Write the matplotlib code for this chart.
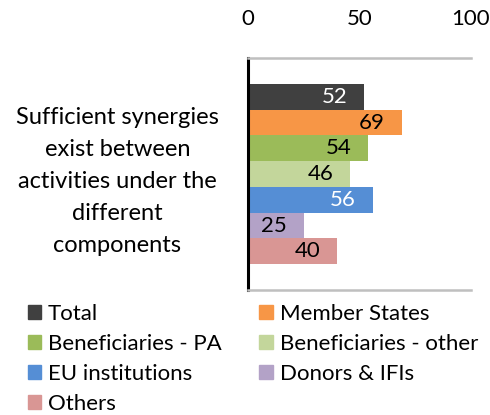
import matplotlib.pyplot as plt
from matplotlib.patches import Patch

plt.rcParams["font.family"] = ["Lato", "DejaVu Sans"]

category = "Sufficient synergies\nexist between\nactivities under the\ndifferent\ncomponents"
groups = ["Total", "Member States", "Beneficiaries - PA", "Beneficiaries - other",
          "EU institutions", "Donors & IFIs", "Others"]
values = [52, 69, 54, 46, 56, 25, 40]
colors = ["#404040", "#F79646", "#9BBB59", "#C3D69B", "#558ED5", "#B3A2C7", "#D99694"]
label_colors = ["white", "black", "black", "black", "white", "black", "black"]
xticks = [0, 50, 100]

fs = 16
fig = plt.figure(figsize=(4.9, 4.15), dpi=100)
ax = fig.add_axes([0.506, 0.301, 0.455, 0.559])

h = 0.111
n = len(values)
for i, (g, v, c, lc) in enumerate(zip(groups, values, colors, label_colors)):
    y = (i - (n - 1) / 2) * h
    ax.barh(y, v, height=h, color=c, label=g)
    ax.annotate(str(v), (v, y), xytext=(-12, 0), textcoords="offset points",
                ha="right", va="center", fontsize=fs, color=lc)

ax.set_xlim(0, 100)
ax.set_ylim(0.5, -0.5)
ax.xaxis.tick_top()
ax.set_xticks(xticks)
ax.tick_params(axis="x", length=0, pad=21, labelsize=fs)
ax.set_yticks([0], [category])
ax.tick_params(axis="y", length=0, pad=94, labelsize=17)
for t in ax.get_yticklabels():
    t.set_ha("center")
    t.set_multialignment("center")
    t.set_linespacing(1.65)

ax.spines["right"].set_visible(False)
ax.spines["left"].set_color("black")
ax.spines["left"].set_linewidth(2.2)
for s in ["top", "bottom"]:
    ax.spines[s].set_color("#bfbfbf")
    ax.spines[s].set_linewidth(1.8)

order = [0, 2, 4, 6, 1, 3, 5]
handles = [Patch(color=colors[k]) for k in order]
labels = [groups[k] for k in order]
fig.legend(handles, labels, ncol=2, loc="upper left", bbox_to_anchor=(0.038, 0.29),
           frameon=False, fontsize=fs, handlelength=0.6, handleheight=0.6,
           handletextpad=0.32, columnspacing=1.7, labelspacing=0.45, borderaxespad=0)

fig.savefig("out.png", dpi=100)
